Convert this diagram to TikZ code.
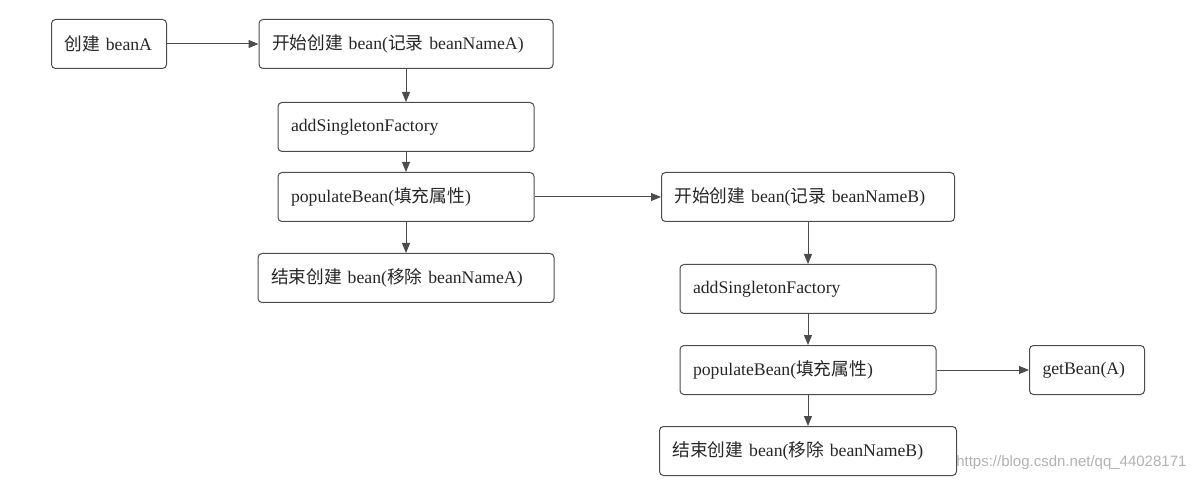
\documentclass[tikz,border=0pt]{standalone}
\usepackage{fontspec}
\setmainfont{Liberation Serif}
\newfontfamily\zh{Noto Sans CJK SC}
\newfontfamily\wmfont{Liberation Sans}
\usetikzlibrary{arrows.meta}
\tikzset{
	box/.style={draw=black!70, line width=1pt, rounded corners=4pt, minimum height=49pt, inner xsep=13pt, align=left, text=black!85, font=\fontsize{17.7}{20}\selectfont},
	flow/.style={draw=black!70, line width=1pt, -{Triangle[length=10pt,width=8pt]}}
}
\begin{document}
\begin{tikzpicture}[x=1pt,y=-1pt]
	\useasboundingbox (0,0) rectangle (1195,481);
	\node[box, text width=89pt] (createA) at (109,44) {{\zh 创建} beanA};
	\node[box, text width=268pt] (beginA) at (406,44) {{\zh 开始创建} bean({\zh 记录} beanNameA)};
	\node[box, text width=230pt] (addA) at (406,127) {addSingletonFactory};
	\node[box, text width=230pt] (popA) at (406,197) {populateBean({\zh 填充属性})};
	\node[box, text width=270pt] (endA) at (406,278) {{\zh 结束创建} bean({\zh 移除} beanNameA)};
	\node[box, text width=267pt] (beginB) at (808,197) {{\zh 开始创建} bean({\zh 记录} beanNameB)};
	\node[box, text width=230pt] (addB) at (808,289) {addSingletonFactory};
	\node[box, text width=230pt] (popB) at (808,370) {populateBean({\zh 填充属性})};
	\node[box, text width=89pt] (getA) at (1087,370) {getBean(A)};
	\node[box, text width=271pt] (endB) at (808,451) {{\zh 结束创建} bean({\zh 移除} beanNameB)};
	\draw[flow] (createA) -- (beginA);
	\draw[flow] (beginA) -- (addA);
	\draw[flow] (addA) -- (popA);
	\draw[flow] (popA) -- (endA);
	\draw[flow] (popA) -- (beginB);
	\draw[flow] (beginB) -- (addB);
	\draw[flow] (addB) -- (popB);
	\draw[flow] (popB) -- (endB);
	\draw[flow] (popB) -- (getA);
	\node[anchor=east, text=black!30, font=\wmfont\fontsize{15}{17}\selectfont] (mark) at (1190,463) {https://blog.csdn.net/qq\_44028171};
\end{tikzpicture}
\end{document}
